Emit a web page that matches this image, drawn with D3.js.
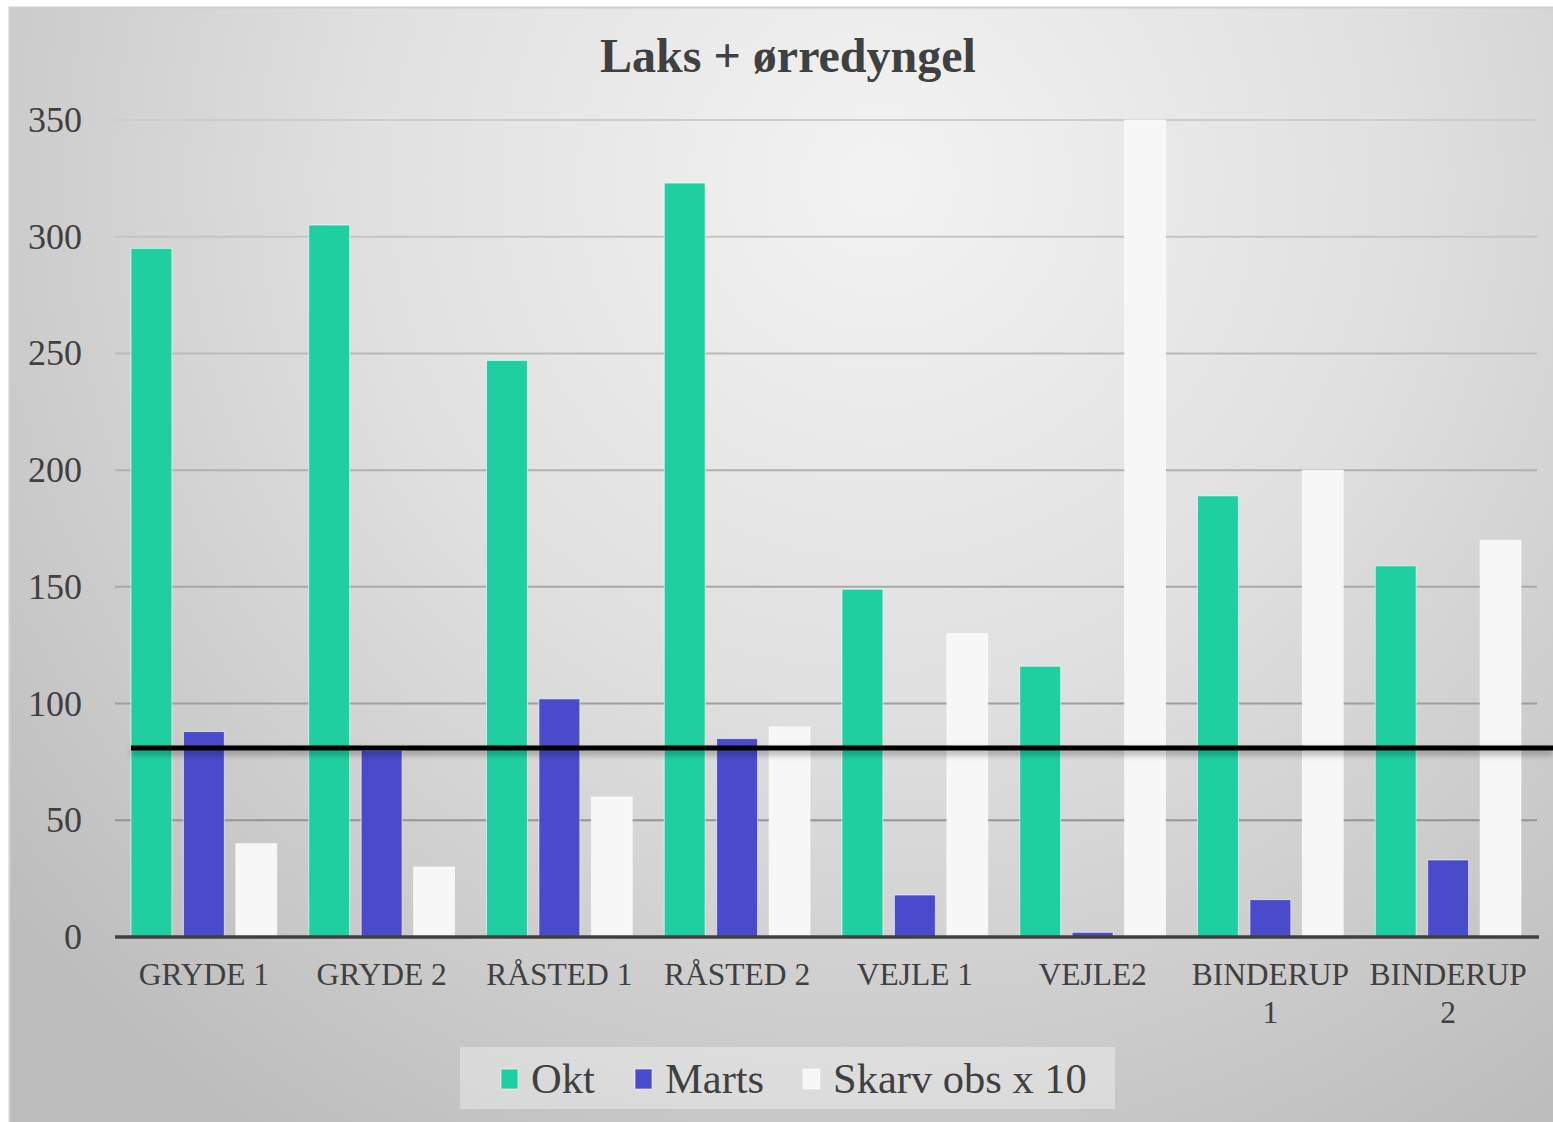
<!DOCTYPE html>
<html>
<head>
<meta charset="utf-8">
<script src="https://cdn.jsdelivr.net/npm/d3@7"></script>
<style>
  body { margin: 0; background: #fff; }
  text { font-family: "Liberation Serif", "Times New Roman", serif; fill: #404040; }
</style>
</head>
<body>
<div id="chart"></div>
<script>
var categories = ["GRYDE 1", "GRYDE 2", "RÅSTED 1", "RÅSTED 2", "VEJLE 1", "VEJLE2", "BINDERUP 1", "BINDERUP 2"];
var okt = [295, 305, 247, 323, 149, 116, 189, 159];
var marts = [88, 80, 102, 85, 18, 2, 16, 33];
var skarv = [40, 30, 60, 90, 130, 350, 200, 170];
var seriesNames = ["Okt", "Marts", "Skarv obs x 10"];
var yTicks = [0, 50, 100, 150, 200, 250, 300, 350];
var limit = 81;

var W = 1553, H = 1122;
var margin = {top: 120, right: 16, bottom: 185, left: 115},
    width = W - margin.left - margin.right,
    height = H - margin.top - margin.bottom;

var colors = {"Okt": "#20cfa0", "Marts": "#4a4acc", "Skarv obs x 10": "#f7f7f7"};

var svg = d3.select("#chart").append("svg")
    .attr("width", W)
    .attr("height", H);

var defs = svg.append("defs");
var bg = defs.append("radialGradient")
    .attr("id", "bg")
    .attr("gradientUnits", "userSpaceOnUse")
    .attr("cx", 880).attr("cy", 180).attr("r", 1150);
bg.append("stop").attr("offset", "0").attr("stop-color", "#f3f3f3");
bg.append("stop").attr("offset", "0.45").attr("stop-color", "#e0e0e0");
bg.append("stop").attr("offset", "1").attr("stop-color", "#bcbcbc");

// shadow under the limit line (user space, a flat line has no bbox height)
var shadow = defs.append("filter").attr("id", "shadow")
    .attr("filterUnits", "userSpaceOnUse")
    .attr("x", 0).attr("y", 0).attr("width", W).attr("height", H);
shadow.append("feDropShadow")
    .attr("dx", 0).attr("dy", 4).attr("stdDeviation", 3)
    .attr("flood-color", "#000").attr("flood-opacity", 0.35);

// frame
svg.append("rect")
    .attr("x", 9.5).attr("y", 7.5)
    .attr("width", W).attr("height", H)
    .attr("fill", "url(#bg)")
    .attr("stroke", "#cfcfcf")
    .attr("stroke-width", 2);

svg.append("text")
    .attr("x", 788).attr("y", 72)
    .attr("text-anchor", "middle")
    .style("font-size", "48px")
    .style("font-weight", "bold")
    .text("Laks + ørredyngel");

var g = svg.append("g")
    .attr("transform", "translate(" + margin.left + "," + margin.top + ")");

var x = d3.scaleBand()
    .domain(categories)
    .range([0, width])
    .paddingInner(0.18)
    .paddingOuter(0.09);
var x1 = d3.scaleBand()
    .domain(seriesNames)
    .range([0, x.bandwidth()])
    .paddingInner(0.22);
var y = d3.scaleLinear().domain([0, 350]).range([height, 0]);

var gridColor = d3.scaleLinear().domain([0, 350]).range(["#8c8c8c", "#cdcdcd"]);

// gridlines
g.append("g").selectAll("line")
    .data(yTicks.filter(function(d) { return d > 0; }))
    .enter().append("line")
    .attr("x1", 0).attr("x2", width)
    .attr("y1", function(d) { return y(d); })
    .attr("y2", function(d) { return y(d); })
    .attr("stroke", function(d) { return gridColor(d); })
    .attr("stroke-width", 2);

// y axis labels
var yAxis = d3.axisLeft(y).tickValues(yTicks).tickSize(0).tickPadding(33);
g.append("g")
    .call(yAxis)
    .call(function(s) { s.select(".domain").remove(); })
    .selectAll("text")
    .style("font-size", "36px")
    .style("font-family", "Liberation Serif, serif")
    .attr("fill", "#404040");

var rows = categories.map(function(c, i) {
  return {cat: c, values: [
    {name: "Okt", v: okt[i]},
    {name: "Marts", v: marts[i]},
    {name: "Skarv obs x 10", v: skarv[i]}
  ]};
});

var groups = g.selectAll(".grp")
    .data(rows)
    .enter().append("g")
    .attr("class", "grp")
    .attr("transform", function(d) { return "translate(" + x(d.cat) + ",0)"; });

groups.selectAll("rect")
    .data(function(d) { return d.values; })
    .enter().append("rect")
    .attr("x", function(d) { return x1(d.name); })
    .attr("width", x1.bandwidth())
    .attr("y", function(d) { return y(d.v); })
    .attr("height", function(d) { return height - y(d.v); })
    .attr("fill", function(d) { return colors[d.name]; })
    .attr("stroke", "rgba(255,255,255,0.6)")
    .attr("stroke-width", 1);

// x axis
var xAxis = d3.axisBottom(x).tickSize(0).tickPadding(26);
var xg = g.append("g")
    .attr("transform", "translate(0," + height + ")")
    .call(xAxis);
xg.select(".domain").remove();
xg.selectAll("text")
    .style("font-size", "31.5px")
    .style("font-family", "Liberation Serif, serif")
    .attr("fill", "#404040")
    .each(function(d) {
      var t = d3.select(this);
      var parts = d.indexOf("BINDERUP") === 0 ? d.split(" ") : [d];
      var yy = t.attr("y"), dy = t.attr("dy");
      t.text(null);
      parts.forEach(function(p, i) {
        t.append("tspan").attr("x", 0).attr("y", yy)
          .attr("dy", (i * 1.2 + parseFloat(dy)) + "em").text(p);
      });
    });

g.append("line")
    .attr("x1", 0).attr("x2", width + 2)
    .attr("y1", y(0)).attr("y2", y(0))
    .attr("stroke", "#404040")
    .attr("stroke-width", 3.5);

// limit line
g.append("line")
    .attr("x1", x(categories[0]) + x1("Okt"))
    .attr("x2", W - margin.left)
    .attr("y1", y(limit)).attr("y2", y(limit))
    .attr("stroke", "#000")
    .attr("stroke-width", 5)
    .attr("filter", "url(#shadow)");

// legend
var leg = svg.append("g");
leg.append("rect")
    .attr("x", 460).attr("y", 1047)
    .attr("width", 655).attr("height", 62)
    .attr("fill", "rgba(255,255,255,0.35)");
var legX = [501, 635, 803];
seriesNames.forEach(function(n, i) {
  leg.append("rect")
    .attr("x", legX[i]).attr("y", 1069)
    .attr("width", 17).attr("height", 20)
    .attr("fill", colors[n])
    .attr("stroke", "rgba(255,255,255,0.6)");
  leg.append("text")
    .attr("x", legX[i] + 30).attr("y", 1093)
    .style("font-size", "42.5px")
    .text(n);
});
</script>
</body>
</html>
